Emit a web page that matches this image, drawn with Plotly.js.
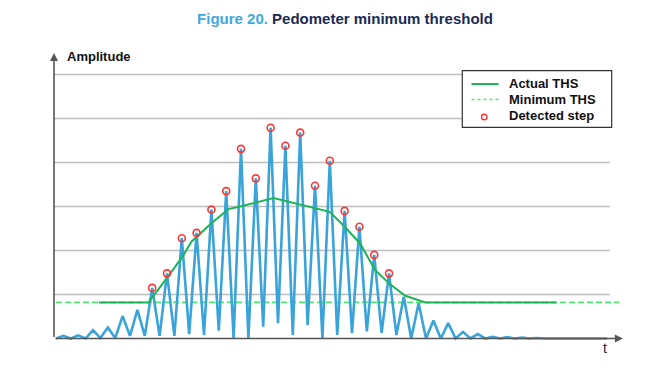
<!DOCTYPE html>
<html>
<head>
<meta charset="utf-8">
<script src="https://cdn.plot.ly/plotly-3.0.1.min.js"></script>
<style>html,body{margin:0;padding:0;background:#fff;}#chart{width:659px;height:377px;}</style>
</head>
<body>
<div id="chart"></div>
<script>
// Accelerometer amplitude samples (sample index -> amplitude, grid units)
const sampleT = [0,1,2,3,4,5,6,7,8,9,10,11,12,13,14,15,16,17,18,19,20,21,22,23,24,25,26,27,28,29,30,31,32,33,34,35,36,37,38,39,40,41,42,43,44,45,46,47,48,49,50,51,52,53,54,55,56,57,58,59,60,61,62,63,64,65,66,68,70,72,74.5];
const sampleAmp = [0,0.06,0,0.07,0,0.19,0.01,0.25,0.01,0.51,0.06,0.65,0.06,1.15,0.06,1.48,0.06,2.28,0.10,2.40,0.08,2.93,0.18,3.35,0,4.31,0,3.64,0.27,4.79,0.35,4.38,0.08,4.68,0.31,3.47,0,4.04,0.08,2.90,0.12,2.54,0.16,1.90,0.13,1.48,0.08,0.95,0,0.80,0,0.41,0,0.35,0,0.15,0,0.10,0,0.04,0,0.03,0,0.02,0,0.01,0,0,0,0,0];

// Detected steps
const stepT = [13,15,17,19,21,23,25,27,29,31,33,35,37,39,41,43,45];
const stepAmp = [1.15,1.48,2.28,2.40,2.93,3.35,4.31,3.64,4.79,4.38,4.68,3.47,4.04,2.90,2.54,1.90,1.48];

// Actual threshold
const thsT = [5.8,12.5,15.1,17.1,18.3,21,23.3,24.9,29.4,37,39,41.1,43.1,45.1,47.2,49.9,67.6];
const thsAmp = [0.82,0.82,1.40,1.86,2.20,2.62,2.94,3.0,3.19,2.88,2.54,2.16,1.56,1.24,0.97,0.82,0.82];

// Minimum threshold
const minT = [0,76.1];
const minAmp = [0.82,0.82];

const gridLevels = [1,2,3,4,5,6];
const legendLabels = ['Actual THS','Minimum THS','Detected step'];

const FONT = 'Liberation Sans, Arial, sans-serif';
const C_BLUE = '#3aa3da', C_GREEN = '#1fb455', C_DASH = '#4ee870', C_RED = '#ff3535';

// plot area: x 54..625 px, y 50..345 px
const PX = p => (p - 54) / 571;
const PY = p => (345 - p) / 295;

const traces = [
  {x:minT, y:minAmp, type:'scatter', mode:'lines', name:legendLabels[1], showlegend:false,
   line:{color:C_DASH, width:1.6, dash:'6px,3px'}, hoverinfo:'skip'},
  {x:sampleT, y:sampleAmp, type:'scatter', mode:'lines', name:'Amplitude', showlegend:false,
   line:{color:C_BLUE, width:2.6}, hoverinfo:'skip'},
  {x:thsT, y:thsAmp, type:'scatter', mode:'lines', name:legendLabels[0], showlegend:false,
   line:{color:C_GREEN, width:2}, hoverinfo:'skip'},
  {x:stepT, y:stepAmp, type:'scatter', mode:'markers', name:legendLabels[2], showlegend:false,
   marker:{symbol:'circle-open', size:7, color:C_RED, line:{width:1.6, color:C_RED}},
   cliponaxis:false, hoverinfo:'skip'}
];

const shapes = gridLevels.map(g => ({
  type:'line', xref:'x', yref:'y', x0:-0.27, x1:74.86, y0:g, y1:g,
  line:{color:'#bdbdbd', width:1.6}, layer:'below'
}));

// legend box
shapes.push({type:'rect', xref:'paper', yref:'paper', x0:PX(462.3), x1:PX(611.7), y0:PY(127.3), y1:PY(70.7),
  fillcolor:'#ffffff', line:{color:'#333333', width:1.2}, layer:'above'});
shapes.push({type:'line', xref:'paper', yref:'paper', x0:PX(471.5), x1:PX(498.5), y0:PY(84), y1:PY(84),
  line:{color:C_GREEN, width:2}, layer:'above'});
shapes.push({type:'line', xref:'paper', yref:'paper', x0:PX(471.5), x1:PX(498.5), y0:PY(99.5), y1:PY(99.5),
  line:{color:C_DASH, width:1.6, dash:'3px,3px'}, layer:'above'});
shapes.push({type:'circle', xref:'paper', yref:'paper', xsizemode:'pixel', ysizemode:'pixel',
  xanchor:PX(484.3), yanchor:PY(117), x0:-2.8, x1:2.8, y0:-2.8, y1:2.8,
  line:{color:C_RED, width:1.4}, fillcolor:'rgba(0,0,0,0)', layer:'above'});

const axisColor = '#555555';
const annotations = [
  {xref:'x', yref:'y', axref:'x', ayref:'y', x:76.6, y:0, ax:-0.27, ay:0, text:'',
   showarrow:true, arrowhead:2, arrowsize:1, arrowwidth:1.6, arrowcolor:axisColor},
  {xref:'x', yref:'y', axref:'x', ayref:'y', x:-0.27, y:6.49, ax:-0.27, ay:0, text:'',
   showarrow:true, arrowhead:2, arrowsize:1, arrowwidth:1.6, arrowcolor:axisColor},
  {xref:'paper', yref:'paper', x:PX(65), y:PY(57), xanchor:'left', yanchor:'middle',
   text:'<b>Amplitude</b>', showarrow:false, font:{family:FONT, size:13, color:'#111111'}},
  {xref:'paper', yref:'paper', x:PX(604.5), y:PY(348), xanchor:'center', yanchor:'middle',
   text:'t', showarrow:false, font:{family:FONT, size:14, color:'#1a2340'}}
];
const legendRows = [83, 99, 115.7];
legendLabels.forEach((lab, i) => annotations.push({
  xref:'paper', yref:'paper', x:PX(506.5), y:PY(legendRows[i]), xanchor:'left', yanchor:'middle',
  text:'<b>' + lab + '</b>', showarrow:false, font:{family:FONT, size:13, color:'#111111'}
}));

const layout = {
  width:659, height:377,
  margin:{l:54, r:34, t:50, b:32},
  paper_bgcolor:'#ffffff', plot_bgcolor:'#ffffff',
  font:{family:FONT, size:13, color:'#111111'},
  title:{text:'<b><span style="color:#3ea9dd">Figure 20.</span> Pedometer minimum threshold</b>',
         font:{family:FONT, size:15, color:'#1c2a55'},
         xref:'container', yref:'container', x:345/659, y:1-18.3/377, xanchor:'center', yanchor:'middle'},
  xaxis:{range:[-0.27,76.89], showgrid:false, zeroline:false, showline:false, showticklabels:false, ticks:'', fixedrange:true},
  yaxis:{range:[-0.148,6.557], showgrid:false, zeroline:false, showline:false, showticklabels:false, ticks:'', fixedrange:true},
  showlegend:false,
  shapes:shapes,
  annotations:annotations
};

Plotly.newPlot('chart', traces, layout, {staticPlot:true, displayModeBar:false});
</script>
</body>
</html>
